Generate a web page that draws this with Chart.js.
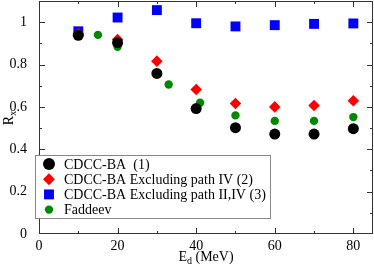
<!DOCTYPE html>
<html>
<head>
<meta charset="utf-8">
<script src="https://cdn.jsdelivr.net/npm/chart.js@4/dist/chart.umd.min.js"></script>
<style>
  html, body { margin: 0; padding: 0; background: #fff; }
  #wrap { width: 374px; height: 267px; position: relative; }
</style>
</head>
<body>
<div id="wrap"><canvas id="chart"></canvas></div>
<script>
// Data
const energies = [10, 20, 30, 40, 50, 60, 70, 80];
const cdccBA = [0.938, 0.903, 0.758, 0.592, 0.502, 0.472, 0.472, 0.497];
const exclIV = [0.945, 0.918, 0.816, 0.682, 0.616, 0.600, 0.607, 0.629];
const exclIIIV = [0.957, 1.022, 1.057, 0.995, 0.980, 0.986, 0.992, 0.994];
const faddeevE = [15, 20, 33, 41, 50, 60, 70, 80];
const faddeev = [0.940, 0.884, 0.706, 0.620, 0.560, 0.534, 0.534, 0.552];

const xTicks = [0, 20, 40, 60, 80];
const yTicks = [0, 0.2, 0.4, 0.6, 0.8, 1];
const legendLabels = [
    "CDCC-BA  (1)",
    "CDCC-BA Excluding path IV (2)",
    "CDCC-BA Excluding path II,IV (3)",
    "Faddeev"
];

const pts = (xs, ys) => xs.map((x, i) => ({ x: x, y: ys[i] }));
const serif = '"Liberation Serif", "DejaVu Serif", serif';

// frame, inward ticks, legend box and axis titles
const decor = {
    id: 'decor',
    afterDraw(chart) {
        const c = chart.ctx;
        const a = chart.chartArea;
        const sx = chart.scales.x, sy = chart.scales.y;
        c.save();
        c.strokeStyle = '#333';
        c.lineWidth = 1;
        c.strokeRect(a.left + 0.5, a.top + 0.5, a.right - a.left - 1, a.bottom - a.top - 1);
        c.beginPath();
        for (let v = 10; v <= 80; v += 10) {
            const px = Math.round(sx.getPixelForValue(v)) + 0.5;
            const len = v % 20 === 0 ? 6 : 3;
            c.moveTo(px, a.bottom); c.lineTo(px, a.bottom - len);
            c.moveTo(px, a.top); c.lineTo(px, a.top + len);
        }
        for (let k = 1; k <= 10; k++) {
            const v = k / 10;
            const py = Math.round(sy.getPixelForValue(v)) + 0.5;
            const len = k % 2 === 0 ? 6 : 3;
            c.moveTo(a.left, py); c.lineTo(a.left + len, py);
            c.moveTo(a.right, py); c.lineTo(a.right - len, py);
        }
        c.stroke();

        // legend
        const lx = 35, ly = 155, lw = 235, lh = 63;
        c.fillStyle = '#fff';
        c.fillRect(lx, ly, lw, lh);
        c.strokeStyle = '#888';
        c.strokeRect(lx + 0.5, ly + 0.5, lw, lh);
        c.font = '14px ' + serif;
        c.textBaseline = 'middle';
        chart.data.datasets.forEach((ds, i) => {
            const y = 164 + i * 15.2;
            c.fillStyle = ds.backgroundColor;
            c.strokeStyle = ds.backgroundColor;
            Chart.helpers.drawPoint(c, { pointStyle: ds.pointStyle, radius: ds.legendRadius, borderWidth: 0 }, 49, y);
            c.fillStyle = '#000';
            c.fillText(legendLabels[i], 64, y + 1);
        });

        // axis titles
        c.fillStyle = '#000';
        c.textBaseline = 'alphabetic';
        const xt = 'E', xs = 'd', xr = ' (MeV)';
        c.font = '14px ' + serif;
        const w1 = c.measureText(xt).width;
        const w3 = c.measureText(xr).width;
        c.font = '10px ' + serif;
        const w2 = c.measureText(xs).width;
        let x0 = (a.left + a.right) / 2 - (w1 + w2 + w3) / 2;
        c.font = '14px ' + serif;
        c.fillText(xt, x0, 261);
        c.font = '10px ' + serif;
        c.fillText(xs, x0 + w1, 264);
        c.font = '14px ' + serif;
        c.fillText(xr, x0 + w1 + w2, 261);

        c.translate(13, (a.top + a.bottom) / 2);
        c.rotate(-Math.PI / 2);
        c.font = '14px ' + serif;
        const wr = c.measureText('R').width;
        c.fillText('R', -wr / 2 - 3, 0);
        c.font = '10px ' + serif;
        c.fillText('x', wr / 2 - 3, 3);
        c.restore();
    }
};

const ctx = document.getElementById('chart').getContext('2d');
new Chart(ctx, {
    type: 'scatter',
    data: {
        datasets: [
            { label: legendLabels[0], data: pts(energies, cdccBA), pointStyle: 'circle', pointRadius: 5.5, legendRadius: 6, backgroundColor: '#000', borderWidth: 0 },
            { label: legendLabels[1], data: pts(energies, exclIV), pointStyle: 'rectRot', pointRadius: 5.8, legendRadius: 6, backgroundColor: '#ff0000', borderWidth: 0 },
            { label: legendLabels[2], data: pts(energies, exclIIIV), pointStyle: 'rect', pointRadius: 7, legendRadius: 7, backgroundColor: '#0000ff', borderWidth: 0 },
            { label: legendLabels[3], data: pts(faddeevE, faddeev), pointStyle: 'circle', pointRadius: 4.2, legendRadius: 4.2, backgroundColor: '#008800', borderWidth: 0 }
        ]
    },
    options: {
        responsive: true,
        maintainAspectRatio: false,
        animation: false,
        layout: { autoPadding: false, padding: { left: 0, right: 1, top: 1, bottom: 0 } },
        plugins: { legend: { display: false }, tooltip: { enabled: false } },
        scales: {
            x: {
                min: 0, max: 85,
                afterBuildTicks: s => { s.ticks = xTicks.map(v => ({ value: v })); },
                afterFit: s => { s.height = 33; s.paddingLeft = 0; s.paddingRight = 0; },
                grid: { display: false },
                border: { display: false },
                ticks: { color: '#000', font: { family: serif, size: 14 }, padding: -4, maxRotation: 0,
                         callback: v => String(v) }
            },
            y: {
                min: 0, max: 1.1,
                afterBuildTicks: s => { s.ticks = yTicks.map(v => ({ value: v })); },
                afterFit: s => { s.width = 39; s.paddingTop = 0; s.paddingBottom = 0; },
                grid: { display: false },
                border: { display: false },
                ticks: { color: '#000', font: { family: serif, size: 14 }, padding: 4,
                         callback: v => String(Math.round(v * 10) / 10) }
            }
        }
    },
    plugins: [decor]
});
</script>
</body>
</html>
